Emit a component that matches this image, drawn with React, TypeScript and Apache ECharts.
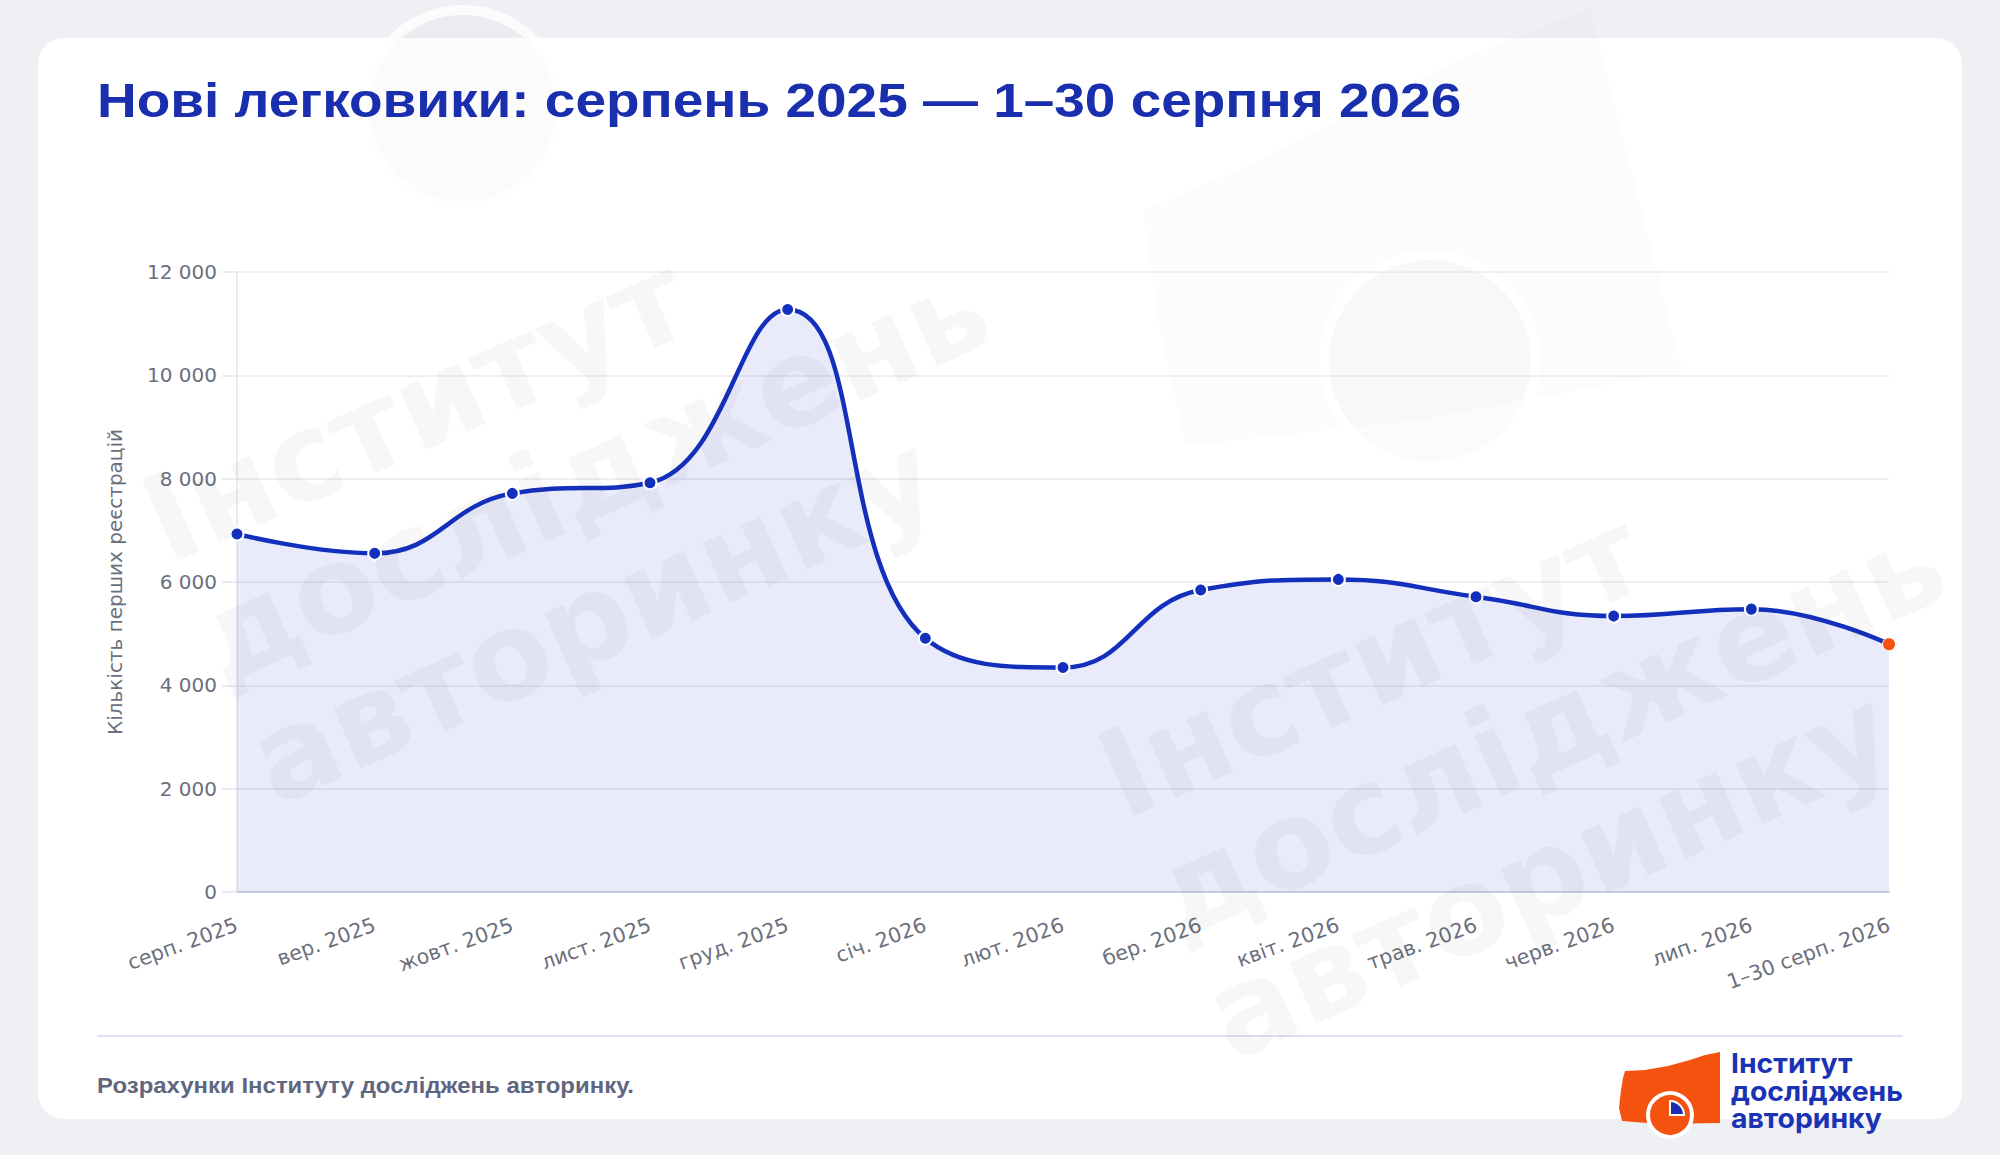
import React, { useEffect, useRef } from "react";
import * as echarts from "echarts";

const categories = [
  "серп. 2025",
  "вер. 2025",
  "жовт. 2025",
  "лист. 2025",
  "груд. 2025",
  "січ. 2026",
  "лют. 2026",
  "бер. 2026",
  "квіт. 2026",
  "трав. 2026",
  "черв. 2026",
  "лип. 2026",
  "1–30 серп. 2026",
];
const values = [6930, 6555, 7715, 7920, 11275, 4910, 4345, 5845, 6050, 5715, 5340, 5475, 4795];
const yMin = 0;
const yMax = 12000;
const yStep = 2000;

const titleText = "Нові легковики: серпень 2025 — 1–30 серпня 2026";
const yAxisName = "Кількість перших реєстрацій";
const footerText = "Розрахунки Інституту досліджень авторинку.";
const logoLines = ["Інститут", "досліджень", "авторинку"];
const watermarkText = "Інститут\nдосліджень\nавторинку";

const BLUE = "#1330bd";
const ORANGE = "#f5520f";
const AXIS_FONT = '"DejaVu Sans", Verdana, sans-serif';

function fmt(v: number) {
  return String(v).replace(/\B(?=(\d{3})+(?!\d))/g, " ");
}

function wm(x: number, y: number) {
  return {
    type: "text",
    x,
    y,
    rotation: 0.42,
    silent: true,
    z: 100,
    style: {
      text: watermarkText,
      fill: "rgba(40,40,70,0.034)",
      font: 'bold 122px "DejaVu Sans", sans-serif',
      lineHeight: 132,
      align: "left",
      verticalAlign: "top",
    },
  };
}

export default function App() {
  const ref = useRef<HTMLDivElement>(null);
  useEffect(() => {
    document.body.style.margin = "0";
    const chart = echarts.init(ref.current!, null, { renderer: "svg" });
    const data = values.map((v, i) =>
      i === values.length - 1
        ? { value: v, itemStyle: { color: ORANGE, borderColor: "#fff", borderWidth: 1 } }
        : v
    );
    chart.setOption({
      animation: false,
      backgroundColor: "#eff0f4",
      grid: { left: 237, right: 111, top: 272, bottom: 263 },
      xAxis: {
        type: "category",
        data: categories,
        boundaryGap: false,
        axisLine: { show: true, lineStyle: { color: "#cfd1e3", width: 2 } },
        axisTick: { show: false },
        axisLabel: {
          rotate: 20,
          color: "#6b6f7c",
          fontSize: 20.5,
          fontFamily: AXIS_FONT,
          margin: 32,
          interval: 0,
        },
        splitLine: { show: false },
      },
      yAxis: {
        type: "value",
        min: yMin,
        max: yMax,
        interval: yStep,
        name: yAxisName,
        nameLocation: "middle",
        nameRotate: 90,
        nameGap: 112,
        nameTextStyle: {
          color: "#6b6f7c",
          fontSize: 20,
          fontFamily: AXIS_FONT,
        },
        axisLine: { show: true, lineStyle: { color: "#e3e4ea", width: 1.5 } },
        axisTick: { show: true, length: 15, lineStyle: { color: "#e3e4ea", width: 1.5 } },
        axisLabel: {
          color: "#6b6f7c",
          fontSize: 20,
          fontFamily: AXIS_FONT,
          margin: 20,
          formatter: (v: number) => fmt(v),
        },
        splitLine: { show: true, lineStyle: { color: "#e8e9ef", width: 1.5 } },
      },
      series: [
        {
          type: "line",
          data,
          smooth: 0.45,
          symbol: "circle",
          symbolSize: 13,
          showSymbol: true,
          lineStyle: { color: BLUE, width: 4.5 },
          itemStyle: { color: BLUE, borderColor: "#ffffff", borderWidth: 2 },
          areaStyle: { color: "rgba(55,75,205,0.155)" },
          z: 5,
        },
      ],
      graphic: [
        {
          type: "rect",
          z: -10,
          silent: true,
          shape: { x: 38, y: 38, width: 1924, height: 1081, r: 26 },
          style: { fill: "#ffffff" },
        },
        // faint logo watermarks
        {
          type: "polygon",
          z: -9,
          silent: true,
          shape: {
            points: [
              [1143, 211],
              [1250, 165],
              [1360, 110],
              [1470, 55],
              [1590, 8],
              [1682, 370],
              [1420, 420],
              [1186, 446],
              [1160, 330],
            ],
          },
          style: { fill: "rgba(40,40,70,0.016)" },
        },
        {
          type: "circle",
          z: -8,
          silent: true,
          shape: { cx: 1430, cy: 361, r: 106 },
          style: { fill: "rgba(40,40,70,0.018)", stroke: "#ffffff", lineWidth: 10 },
        },
        {
          type: "circle",
          z: -8,
          silent: true,
          shape: { cx: 463, cy: 108, r: 98 },
          style: { fill: "rgba(40,40,70,0.018)", stroke: "rgba(255,255,255,0.8)", lineWidth: 10 },
        },
        {
          type: "text",
          x: 97,
          y: 100,
          z: 10,
          scaleX: 1.145,
          style: {
            text: titleText,
            fill: "#1a2fae",
            font: 'bold 48px "Liberation Sans", Arial, sans-serif',
            verticalAlign: "middle",
          },
        },
        {
          type: "line",
          z: 10,
          shape: { x1: 97, y1: 1036, x2: 1903, y2: 1036 },
          style: { stroke: "#dfe1ef", lineWidth: 2 },
        },
        {
          type: "text",
          x: 97,
          y: 1085,
          z: 10,
          scaleX: 1.09,
          style: {
            text: footerText,
            fill: "#5f6780",
            font: 'bold 22px "Liberation Sans", Arial, sans-serif',
            verticalAlign: "middle",
          },
        },
        // logo car shape
        {
          type: "polygon",
          z: 10,
          shape: {
            points: [
              [1625, 1071],
              [1645, 1070],
              [1668, 1066],
              [1690, 1060],
              [1705, 1055],
              [1720, 1052],
              [1720, 1123],
              [1660, 1124],
              [1622, 1121],
              [1619, 1108],
              [1621, 1090],
              [1623, 1078],
            ],
          },
          style: { fill: ORANGE },
        },
        {
          type: "circle",
          z: 11,
          shape: { cx: 1670, cy: 1115, r: 22 },
          style: { fill: ORANGE, stroke: "#ffffff", lineWidth: 4 },
        },
        {
          type: "sector",
          z: 12,
          shape: { cx: 1670, cy: 1115, r0: 0, r: 14, startAngle: -Math.PI / 2, endAngle: 0, clockwise: true },
          style: { fill: "#1a2fae", stroke: "#ffffff", lineWidth: 2 },
        },
        ...logoLines.map((t, i) => ({
          type: "text",
          x: 1731,
          y: 1063 + i * 27.8,
          z: 10,
          scaleX: 1.05,
          style: {
            text: t,
            fill: "#1a33b5",
            font: 'bold 27px Inter, "Noto Sans", sans-serif',
            verticalAlign: "middle",
          },
        })),
        // text watermarks
        wm(124, 467),
        wm(1080, 722),
      ],
    });
    return () => chart.dispose();
  }, []);
  return <div ref={ref} style={{ width: 2000, height: 1155 }} />;
}
